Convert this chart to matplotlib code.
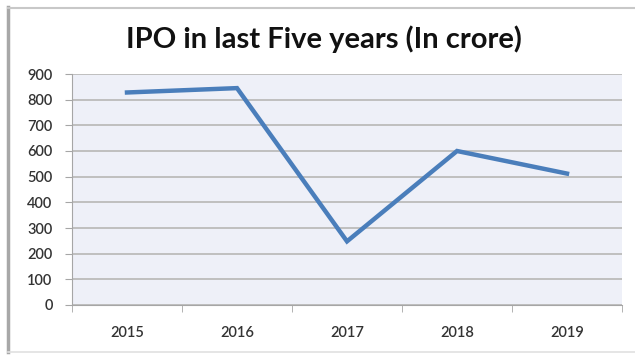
import matplotlib.pyplot as plt
from matplotlib.lines import Line2D

years = ['2015', '2016', '2017', '2018', '2019']
ipo_crore = [828, 845, 248, 600, 512]
y_ticks = [0, 100, 200, 300, 400, 500, 600, 700, 800, 900]

plt.rcParams['font.family'] = ['Lato', 'DejaVu Sans']

fig = plt.figure(figsize=(6.35, 3.56), dpi=100)
fig.patch.set_facecolor('white')

# chart area border: heavy left edge, light top and bottom
W, H = 635, 356
fig.lines.append(Line2D([8 / W, 8 / W], [1 - 7 / H, 1 - 352 / H], transform=fig.transFigure,
                        color='#A8A8A8', linewidth=2.5))
fig.lines.append(Line2D([8 / W, 1], [1 - 7.5 / H, 1 - 7.5 / H], transform=fig.transFigure,
                        color='#C8C8C8', linewidth=1.5))
fig.lines.append(Line2D([8 / W, 1], [1 - 352 / H, 1 - 352 / H], transform=fig.transFigure,
                        color='#E0E0E0', linewidth=1.2))

ax = fig.add_axes([72 / W, 1 - 305 / H, 550 / W, 231 / H])
ax.set_facecolor('#EEF0F8')

x = list(range(len(years)))
ax.plot(x, ipo_crore, color='#4A7EBB', linewidth=3.2, solid_joinstyle='miter', zorder=3)

ax.set_xlim(-0.5, len(years) - 0.5)
ax.set_ylim(0, 900)
ax.set_yticks(y_ticks)
ax.set_xticks(x)
ax.set_xticklabels(years)
ax.set_xticks([i - 0.5 for i in range(len(years) + 1)], minor=True)

ax.grid(axis='y', color='#BFBFBF', linewidth=1.4, zorder=1)
ax.set_axisbelow(True)

for side in ['top', 'right']:
    ax.spines[side].set_visible(False)
ax.spines['left'].set_color('#A6A6A6')
ax.spines['bottom'].set_color('#A6A6A6')

ax.tick_params(axis='y', length=5, color='#A6A6A6', labelsize=10.5, labelcolor='#333333', pad=9)
ax.tick_params(axis='x', which='major', length=0, labelsize=10.5, labelcolor='#333333', pad=15)
ax.tick_params(axis='x', which='minor', length=5, color='#A6A6A6')
for lbl in ax.get_xticklabels() + ax.get_yticklabels():
    lbl.set_fontweight('semibold')

fig.text(0.51, 0.89, 'IPO in last Five years (In crore)', ha='center', va='center',
         fontsize=21, fontweight='bold', color='#111111')

fig.savefig('out.png', dpi=100)
